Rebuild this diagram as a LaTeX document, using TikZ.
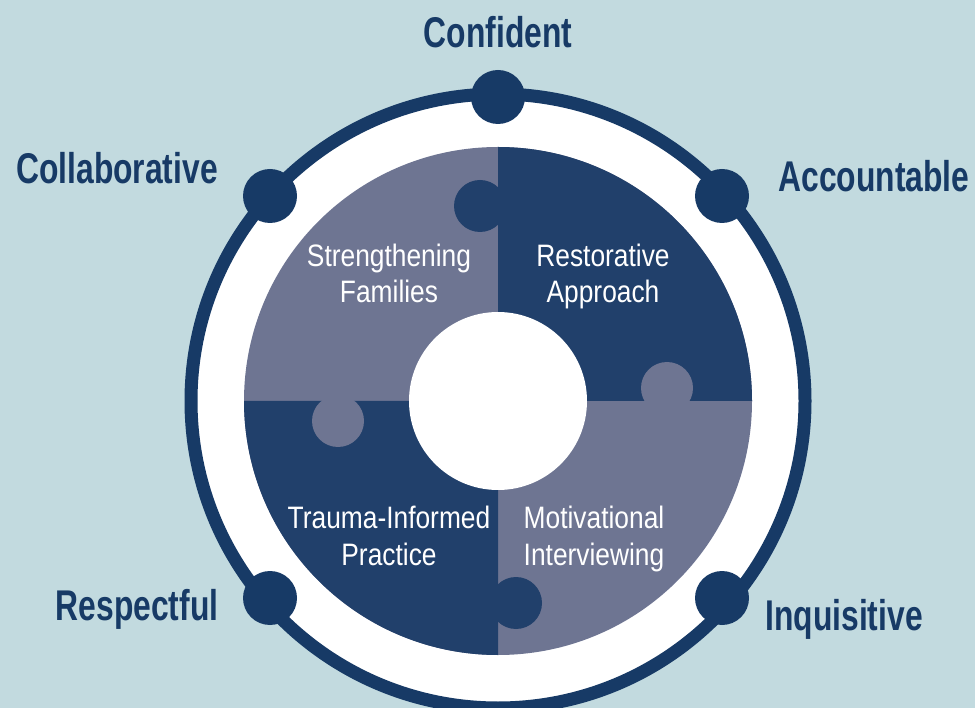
\documentclass[tikz,border=0pt]{standalone}
\usepackage{fontspec}
\setmainfont{Liberation Sans}
\newfontfamily\traitfont[FakeStretch=0.74]{Liberation Sans}
\newfontfamily\piecefont[FakeStretch=0.85]{Liberation Sans}
\definecolor{bgblue}{HTML}{C2DADF}
\definecolor{navy}{HTML}{173A66}
\definecolor{darkpiece}{HTML}{21406B}
\definecolor{graypiece}{HTML}{6E7592}

\begin{document}
\begin{tikzpicture}[x=1pt,y=-1pt,
  trait/.style={font=\traitfont\bfseries\fontsize{43}{50}\selectfont,text=navy,inner sep=0pt,anchor=base},
  piece text/.style={font=\piecefont\fontsize{31}{36}\selectfont,text=white,inner sep=0pt,align=center,anchor=base},
  knob/.style={circle,fill=navy,minimum size=54pt,inner sep=0pt}]

\useasboundingbox[fill=bgblue] (0,0) rectangle (975,708);

% outer ring
\coordinate (hub) at (498,401);
\fill[white] (hub) circle (307);
\draw[navy,line width=13pt] (hub) circle (307);

% puzzle pieces
\fill[graypiece] (hub) circle (254);
\fill[darkpiece] (hub) -- ++(-90:254) arc[start angle=-90,end angle=0,radius=254] -- cycle;
\fill[darkpiece] (hub) -- ++(90:254) arc[start angle=90,end angle=180,radius=254] -- cycle;

% tabs
\fill[darkpiece] (480,206) circle (26);
\fill[graypiece] (667,388) circle (26);
\fill[graypiece] (338,421) circle (26);
\fill[darkpiece] (516,603) circle (26);

% centre hole
\fill[white] (hub) circle (89);

% dots on the ring
\node[knob] (dot top) at (498,97) {};
\node[knob] (dot tl) at (270,196) {};
\node[knob] (dot tr) at (722,196) {};
\node[knob] (dot bl) at (270,598) {};
\node[knob] (dot br) at (722,598) {};

% traits
\node[trait] (confident) at (498,48) {Confident};
\node[trait] (collaborative) at (117,184) {Collaborative};
\node[trait] (accountable) at (874,192) {Accountable};
\node[trait] (respectful) at (137,620) {Respectful};
\node[trait] (inquisitive) at (844,630) {Inquisitive};

% piece labels (base = last line)
\node[piece text] (families) at (389,303) {Strengthening\\Families};
\node[piece text] (restorative) at (603,303) {Restorative\\Approach};
\node[piece text] (trauma) at (389,565) {Trauma-Informed\\Practice};
\node[piece text] (motivational) at (594,565) {Motivational\\Interviewing};

\end{tikzpicture}
\end{document}
